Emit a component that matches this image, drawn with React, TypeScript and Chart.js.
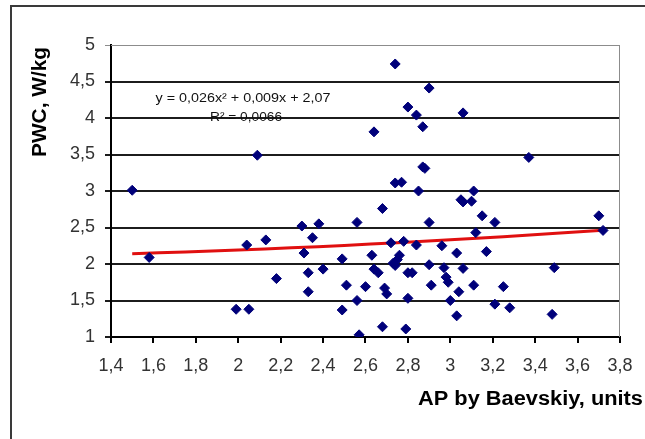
import { useEffect, useRef } from "react";
import { Chart, registerables } from "chart.js";

Chart.register(...registerables);

// AP (Baevskiy adaptation potential) per subject
const AP_VALUES = [
  1.5, 1.58, 2.09, 1.99, 2.05, 2.04, 2.13, 2.18, 2.3, 2.31,
  2.33, 2.33, 2.35, 2.38, 2.4, 2.49, 2.51, 2.49, 2.56, 2.56,
  2.57, 2.6, 2.64, 2.63, 2.64, 2.66, 2.68, 2.69, 2.7, 2.68,
  2.72, 2.74, 2.74, 2.73, 2.74, 2.75, 2.76, 2.77, 2.78, 2.8,
  2.8, 2.82, 2.8, 2.79, 2.84, 2.84, 2.85, 2.87, 2.87, 2.88,
  2.9, 2.9, 2.9, 2.91, 2.96, 2.97, 2.98, 2.99, 3.0, 3.03,
  3.03, 3.04, 3.05, 3.06, 3.06, 3.06, 3.1, 3.11, 3.12, 3.11,
  3.15, 3.17, 3.21, 3.21, 3.25, 3.28, 3.37, 3.49, 3.48, 3.7,
  3.72,
];

// PWC, W/kg for the same subjects
const PWC_VALUES = [
  3.01, 2.09, 3.49, 1.38, 1.38, 2.26, 2.33, 1.8, 2.52, 2.15,
  1.88, 1.62, 2.36, 2.55, 1.93, 2.07, 1.71, 1.37, 2.57, 1.5,
  1.03, 1.69, 3.81, 2.12, 1.93, 1.88, 2.76, 1.67, 1.59, 1.14,
  2.29, 4.74, 3.11, 2.01, 1.98, 2.06, 2.12, 3.12, 2.31, 4.15,
  1.88, 1.88, 1.53, 1.11, 4.04, 2.26, 3.0, 3.88, 3.33, 3.31,
  4.41, 2.57, 1.99, 1.71, 2.25, 1.95, 1.82, 1.75, 1.5, 2.15,
  1.29, 1.62, 2.88, 2.85, 4.07, 1.94, 2.86, 3.0, 2.43, 1.71,
  2.66, 2.17, 2.57, 1.45, 1.69, 1.4, 3.46, 1.95, 1.31, 2.66,
  2.46,
];

// Axis ranges and tick steps
const X_RANGE = [1.4, 3.8];
const X_STEP = 0.2;
const Y_RANGE = [1, 5];
const Y_STEP = 0.5;

// Polynomial trend y = a·x² + b·x + c, as printed on the chart
const TREND_COEFFS = [0.026, 0.009, 2.07];
const TREND_X = [1.5, 1.75, 2.0, 2.25, 2.5, 2.75, 3.0, 3.25, 3.5, 3.72];

const EQUATION_LABEL = "y = 0,026x² + 0,009x + 2,07";
const R2_LABEL = "R² = 0,0066";
const X_TITLE = "AP by Baevskiy, units";
const Y_TITLE = "PWC, W/kg";

const FONT = "'Liberation Sans', Arial, sans-serif";

const formatTick = (v: number) =>
  String(Math.round(v * 10) / 10).replace(".", ",");

// Draws text squeezed or stretched horizontally to the given width
function drawFitted(
  ctx: CanvasRenderingContext2D,
  text: string,
  x: number,
  y: number,
  width: number,
  align: CanvasTextAlign
) {
  const w = ctx.measureText(text).width;
  ctx.save();
  ctx.translate(x, y);
  ctx.scale(width / w, 1);
  ctx.textAlign = align;
  ctx.fillText(text, 0, 0);
  ctx.restore();
}

const decorations = {
  id: "decorations",
  beforeDatasetsDraw(chart: Chart) {
    const { ctx, chartArea: a } = chart;
    ctx.save();
    ctx.strokeStyle = "#8c8c8c";
    ctx.lineWidth = 1;
    ctx.beginPath();
    ctx.moveTo(a.left, a.top + 0.5);
    ctx.lineTo(a.right - 0.5, a.top + 0.5);
    ctx.lineTo(a.right - 0.5, a.bottom);
    ctx.stroke();
    ctx.restore();
  },
  afterDraw(chart: Chart) {
    const { ctx, chartArea: a } = chart;
    ctx.save();
    // outer chart frame (top and left edges)
    ctx.fillStyle = "#3a3a3a";
    ctx.fillRect(10, 5, chart.width, 2);
    ctx.fillRect(10, 5, 2, chart.height);

    // trend equation
    ctx.fillStyle = "#111";
    ctx.font = `12px ${FONT}`;
    ctx.textBaseline = "middle";
    drawFitted(ctx, EQUATION_LABEL, a.left + 132, a.top + 54, 175, "center");
    drawFitted(ctx, R2_LABEL, a.left + 135, a.top + 73, 72, "center");

    // axis titles
    ctx.fillStyle = "#000";
    ctx.font = `bold 20px ${FONT}`;
    ctx.textBaseline = "alphabetic";
    drawFitted(ctx, X_TITLE, 643, 405, 225, "right");

    ctx.save();
    ctx.translate(46, 157);
    ctx.rotate(-Math.PI / 2);
    drawFitted(ctx, Y_TITLE, 0, 0, 110, "left");
    ctx.restore();

    ctx.restore();
  },
};

export default function App() {
  const canvasRef = useRef<HTMLCanvasElement | null>(null);

  useEffect(() => {
    const canvas = canvasRef.current;
    if (!canvas) return;

    const points = AP_VALUES.map((x, i) => ({ x, y: PWC_VALUES[i] }));
    const [a, b, c] = TREND_COEFFS;
    const trend = TREND_X.map((x) => ({ x, y: a * x * x + b * x + c }));

    const chart = new Chart(canvas, {
      type: "scatter",
      data: {
        datasets: [
          {
            label: "PWC",
            data: points,
            pointStyle: "rectRot",
            pointRadius: 5,
            backgroundColor: "#00007a",
            borderColor: "#00007a",
            borderWidth: 1,
            order: 0,
          },
          {
            label: "Trend",
            data: trend,
            showLine: true,
            pointRadius: 0,
            borderColor: "#e01010",
            borderWidth: 3,
            tension: 0.4,
            order: 1,
          },
        ],
      },
      options: {
        responsive: false,
        animation: false,
        layout: { padding: { top: 45, right: 25, bottom: 0, left: 0 } },
        plugins: {
          legend: { display: false },
          tooltip: { enabled: false },
        },
        scales: {
          x: {
            type: "linear",
            min: X_RANGE[0],
            max: X_RANGE[1],
            afterFit: (scale: any) => {
              scale.height = 102;
            },
            ticks: {
              stepSize: X_STEP,
              autoSkip: false,
              maxRotation: 0,
              padding: 12,
              color: "#333",
              font: { family: FONT, size: 18 },
              callback: (v: any) => formatTick(Number(v)),
            },
            grid: {
              drawOnChartArea: false,
              drawTicks: true,
              tickLength: 6,
              color: "#000",
              lineWidth: 2,
            },
            border: { color: "#000", width: 2 },
          },
          y: {
            type: "linear",
            min: Y_RANGE[0],
            max: Y_RANGE[1],
            afterFit: (scale: any) => {
              scale.width = 111;
            },
            ticks: {
              stepSize: Y_STEP,
              padding: 10,
              color: "#333",
              font: { family: FONT, size: 18 },
              callback: (v: any) => formatTick(Number(v)),
            },
            grid: {
              drawTicks: true,
              tickLength: 6,
              color: (ctx: any) =>
                ctx.tick && ctx.tick.value === Y_RANGE[1] ? "#8c8c8c" : "#1c1c1c",
              lineWidth: (ctx: any) =>
                ctx.tick && ctx.tick.value === Y_RANGE[1] ? 1 : 2,
            },
            border: { color: "#000", width: 2 },
          },
        },
      },
      plugins: [decorations],
    });

    return () => chart.destroy();
  }, []);

  return (
    <div
      style={{
        position: "fixed",
        left: 0,
        top: 0,
        width: 645,
        height: 439,
        background: "#fff",
        overflow: "hidden",
      }}
    >
      <canvas ref={canvasRef} width={645} height={439} style={{ display: "block" }} />
    </div>
  );
}
